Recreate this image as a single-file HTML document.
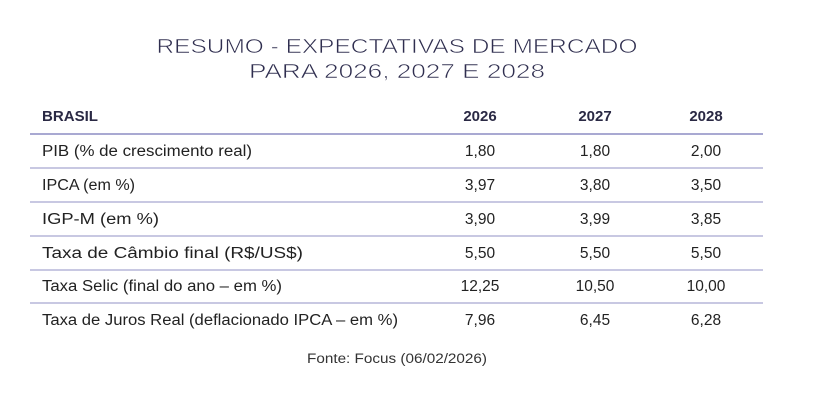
<!DOCTYPE html>
<html><head><meta charset="utf-8"><style>
html,body{margin:0;padding:0;background:#fff;}
svg{display:block;}
</style></head><body>
<svg width="826" height="414" xmlns="http://www.w3.org/2000/svg" font-family="Liberation Sans, sans-serif">
<rect width="826" height="414" fill="#fff"/>
<g fill="#2f2e4f" font-size="20" text-anchor="middle" stroke="#fff" stroke-width="0.6">
<text x="397" y="53" textLength="481" lengthAdjust="spacingAndGlyphs">RESUMO - EXPECTATIVAS DE MERCADO</text>
<text x="397" y="78" textLength="296" lengthAdjust="spacingAndGlyphs">PARA 2026, 2027 E 2028</text>
</g>
<g font-size="15" font-weight="bold" fill="#2a2944">
<text x="42" y="121" textLength="56" lengthAdjust="spacingAndGlyphs">BRASIL</text>
<text x="480" y="121" text-anchor="middle">2026</text>
<text x="595" y="121" text-anchor="middle">2027</text>
<text x="706" y="121" text-anchor="middle">2028</text>
</g>
<line x1="30" y1="134" x2="763" y2="134" stroke="#7676b8" stroke-width="1.3"/>
<g stroke="#a8a8d0" stroke-width="1.2">
<line x1="30" y1="168" x2="763" y2="168"/>
<line x1="30" y1="202" x2="763" y2="202"/>
<line x1="30" y1="236" x2="763" y2="236"/>
<line x1="30" y1="270" x2="763" y2="270"/>
<line x1="30" y1="303" x2="763" y2="303"/>
</g>
<g font-size="15.5" fill="#222">
<text x="42" y="156" textLength="210" lengthAdjust="spacingAndGlyphs">PIB (% de crescimento real)</text>
<text x="42" y="190" textLength="93" lengthAdjust="spacingAndGlyphs">IPCA (em %)</text>
<text x="42" y="224" textLength="117" lengthAdjust="spacingAndGlyphs">IGP-M (em %)</text>
<text x="42" y="258" textLength="261" lengthAdjust="spacingAndGlyphs">Taxa de Câmbio final (R$/US$)</text>
<text x="42" y="291" textLength="240" lengthAdjust="spacingAndGlyphs">Taxa Selic (final do ano – em %)</text>
<text x="42" y="325" textLength="356" lengthAdjust="spacingAndGlyphs">Taxa de Juros Real (deflacionado IPCA – em %)</text>
<g text-anchor="middle">
<text x="480" y="156">1,80</text><text x="595" y="156">1,80</text><text x="706" y="156">2,00</text>
<text x="480" y="190">3,97</text><text x="595" y="190">3,80</text><text x="706" y="190">3,50</text>
<text x="480" y="224">3,90</text><text x="595" y="224">3,99</text><text x="706" y="224">3,85</text>
<text x="480" y="258">5,50</text><text x="595" y="258">5,50</text><text x="706" y="258">5,50</text>
<text x="480" y="291">12,25</text><text x="595" y="291">10,50</text><text x="706" y="291">10,00</text>
<text x="480" y="325">7,96</text><text x="595" y="325">6,45</text><text x="706" y="325">6,28</text>
</g>
</g>
<text x="397" y="363" font-size="13.5" fill="#333" text-anchor="middle" textLength="180" lengthAdjust="spacingAndGlyphs">Fonte: Focus (06/02/2026)</text>
</svg>
</body></html>
